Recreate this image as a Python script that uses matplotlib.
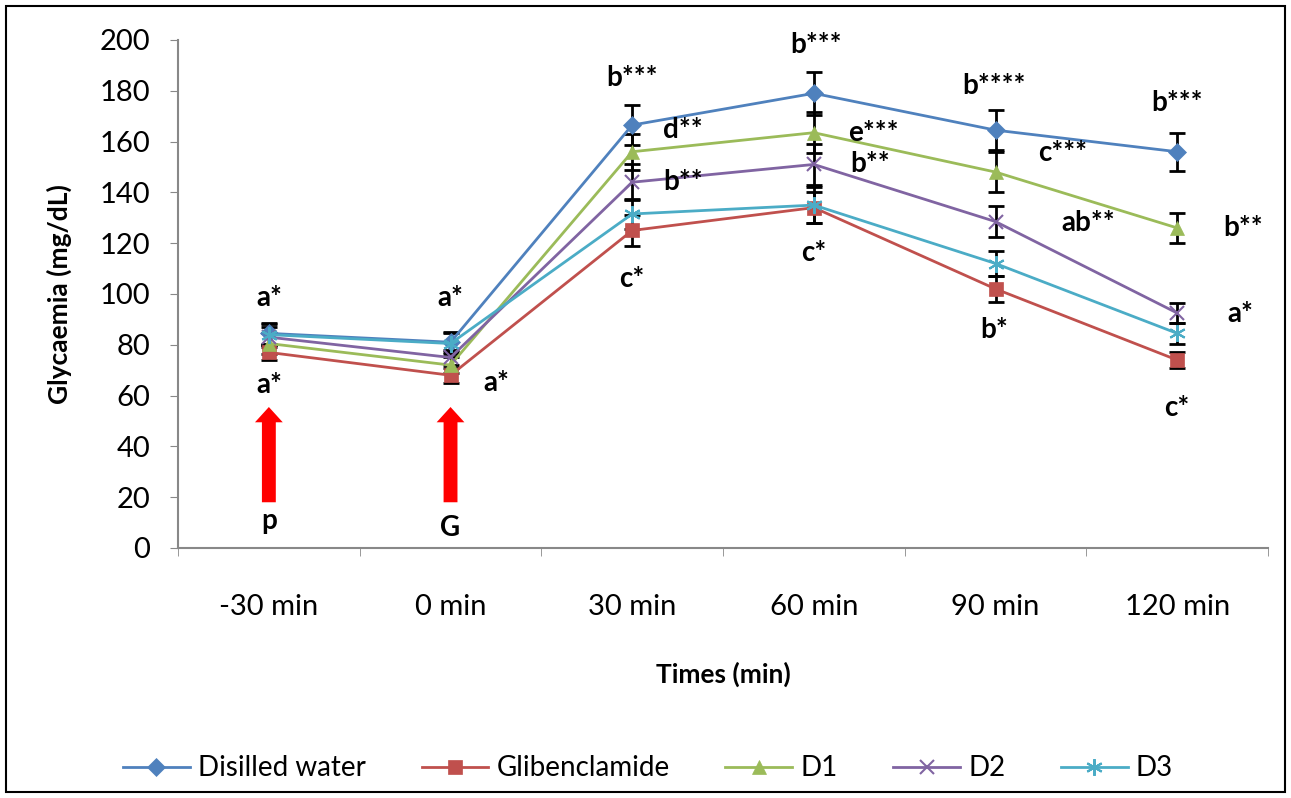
import matplotlib.pyplot as plt
from matplotlib.patches import Rectangle

plt.rcParams['font.family'] = ['Lato', 'DejaVu Sans']

times = ['-30 min', '0 min', '30 min', '60 min', '90 min', '120 min']

water = [84.5, 81, 166.5, 179, 164.5, 156]
glib = [77, 68, 125, 134, 102, 74]
d1 = [80.5, 72, 156, 163.5, 148, 126]
d2 = [83, 75, 144, 151, 128.5, 92.5]
d3 = [84, 80.5, 131.5, 135, 112, 84.5]

water_err = [4, 4, 8, 8.5, 8, 7.5]
glib_err = [3, 3, 6, 6, 5, 3]
d1_err = [4, 3, 7, 8, 8, 6]
d2_err = [4, 3, 7, 8, 6, 4]
d3_err = [4, 4, 6, 7, 5, 4]

# letters of significance: (category index + offset, y, text)
letters = [
    (0, 98.5, 'a*'), (0, 64, 'a*'), (1, 98.5, 'a*'), (1.25, 65, 'a*'),
    (2, 185, 'b***'), (2.28, 164.5, 'd**'), (2.28, 144, 'b**'), (2, 106, 'c*'),
    (3.01, 198, 'b***'), (3.33, 163.5, 'e***'), (3.31, 151, 'b**'), (3, 116, 'c*'),
    (3.99, 182, 'b****'), (4.37, 155.5, 'c***'), (4.51, 128, 'ab**'), (3.99, 86, 'b*'),
    (5, 175, 'b***'), (5.36, 126, 'b**'), (5.35, 92, 'a*'), (5, 55, 'c*'),
]

series = [
    ('Disilled water', water, water_err, '#4F81BD', 'D', 9),
    ('Glibenclamide', glib, glib_err, '#C0504D', 's', 10),
    ('D1', d1, d1_err, '#9BBB59', '^', 10),
    ('D2', d2, d2_err, '#8064A2', 'x', 10),
    ('D3', d3, d3_err, '#4BACC6', (6, 2, 0), 12),
]

fig = plt.figure(figsize=(12.91, 7.98), dpi=100)
ax = fig.add_axes([0.1379, 0.3133, 0.8443, 0.6366])

x = list(range(len(times)))
for name, vals, err, col, mk, ms in series:
    ax.errorbar(x, vals, yerr=err, fmt='none', ecolor='black', elinewidth=2,
                capsize=6, capthick=2, zorder=2)
    thin = mk == 'x' or isinstance(mk, tuple)
    ax.plot(x, vals, color=col, lw=2, marker=mk, markersize=ms,
            markeredgewidth=1.5 if thin else 0.5,
            markeredgecolor=col, label=name, zorder=3)

for xi, yi, txt in letters:
    ax.text(xi, yi, txt, ha='center', va='center', fontsize=20,
            fontweight='bold')

# red arrows for p and G
for xi, lab, ly in [(0, 'p', 10.5), (1, 'G', 8)]:
    ax.annotate('', xy=(xi, 55.5), xytext=(xi, 18),
                arrowprops=dict(arrowstyle='simple,head_length=0.55,head_width=1.0,tail_width=0.5',
                                mutation_scale=20, color='red', lw=0,
                                shrinkA=0, shrinkB=0))
    ax.text(xi, ly, lab, ha='center', va='center', fontsize=20, fontweight='bold')

ax.set_xlim(-0.5, 5.5)
ax.set_ylim(0, 200)
ax.set_yticks(range(0, 201, 20))
ax.set_xticks(x)
ax.set_xticklabels(times)
ax.set_xticks([i - 0.5 for i in range(7)], minor=True)
ax.tick_params(axis='x', which='major', length=0, pad=33, labelsize=21)
ax.tick_params(axis='x', which='minor', length=6, color='#888888', direction='out')
ax.tick_params(axis='y', length=6, color='#888888', labelsize=21, pad=14)

for s in ['top', 'right']:
    ax.spines[s].set_visible(False)
for s in ['left', 'bottom']:
    ax.spines[s].set_color('#888888')
    ax.spines[s].set_linewidth(1.5)

ax.set_ylabel('Glycaemia (mg/dL)', fontsize=19, fontweight='bold', labelpad=20)
ax.set_xlabel('Times (min)', fontsize=19, fontweight='bold', labelpad=30)

fig.legend(loc='center', bbox_to_anchor=(0.502, 0.037), ncol=5, frameon=False,
           fontsize=20, handlelength=2.4, columnspacing=2.0, handletextpad=0.3)

fig.patches.append(Rectangle((0.005, 0.008), 0.99, 0.984, transform=fig.transFigure,
                             fill=False, edgecolor='black', lw=1.5))

fig.savefig('out.png', dpi=100)
